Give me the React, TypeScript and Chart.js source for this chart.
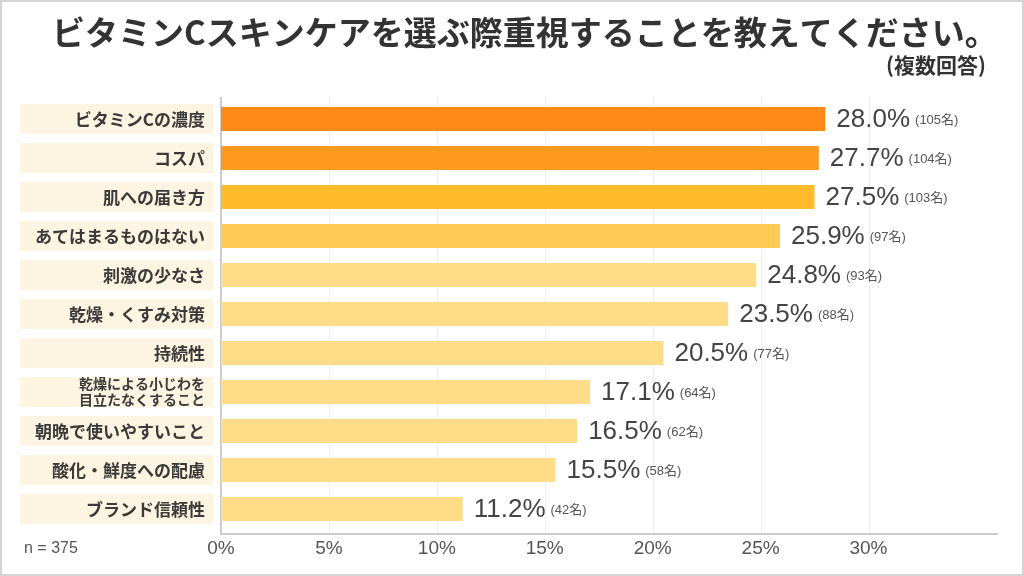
import { useEffect, useRef } from "react";
import { Chart, registerables } from "chart.js";

Chart.register(...registerables);

const titleText = "ビタミンCスキンケアを選ぶ際重視することを教えてください。";
const subtitleText = "(複数回答)";
const sampleText = "n = 375";

const categories = [
  "ビタミンCの濃度",
  "コスパ",
  "肌への届き方",
  "あてはまるものはない",
  "刺激の少なさ",
  "乾燥・くすみ対策",
  "持続性",
  "乾燥による小じわを\n目立たなくすること",
  "朝晩で使いやすいこと",
  "酸化・鮮度への配慮",
  "ブランド信頼性",
];
const percentages = [28.0, 27.7, 27.5, 25.9, 24.8, 23.5, 20.5, 17.1, 16.5, 15.5, 11.2];
const counts = [105, 104, 103, 97, 93, 88, 77, 64, 62, 58, 42];
const barColors = [
  "#FF8A17",
  "#FF9A1E",
  "#FFBB2A",
  "#FFCB55",
  "#FFDD88",
  "#FFDD88",
  "#FFDD88",
  "#FFDD88",
  "#FFDD88",
  "#FFDD88",
  "#FFDD88",
];
const tickValues = [0, 5, 10, 15, 20, 25, 30];

const JP = '"Noto Sans CJK JP", "Noto Sans", sans-serif';
const LAT = '"Liberation Sans", "Noto Sans CJK JP", sans-serif';

const decorPlugin = {
  id: "decor",
  beforeDraw(chart: any) {
    const { ctx, width, height } = chart;
    ctx.save();
    ctx.fillStyle = "#ffffff";
    ctx.fillRect(0, 0, width, height);
    ctx.restore();
  },
  beforeDatasetsDraw(chart: any) {
    const { ctx, chartArea } = chart;
    const xs = chart.scales.x;
    const ys = chart.scales.y;
    const top = 97;
    const axisY = 533;
    ctx.save();
    ctx.strokeStyle = "#ececec";
    ctx.lineWidth = 1;
    tickValues.forEach((v) => {
      if (v === 0) return;
      const x = Math.round(xs.getPixelForValue(v)) + 0.5;
      ctx.beginPath();
      ctx.moveTo(x, top);
      ctx.lineTo(x, axisY);
      ctx.stroke();
    });
    categories.forEach((c, i) => {
      const cy = ys.getPixelForValue(i);
      ctx.fillStyle = "#FEF4E2";
      ctx.fillRect(20, cy - 15, 193, 30);
      ctx.fillStyle = "#3a3a3a";
      ctx.textAlign = "right";
      ctx.textBaseline = "middle";
      const lines = c.split("\n");
      if (lines.length > 1) {
        ctx.font = `bold 14px ${JP}`;
        ctx.fillText(lines[0], 205, cy - 8);
        ctx.fillText(lines[1], 205, cy + 8);
      } else {
        ctx.font = `bold 17px ${JP}`;
        ctx.fillText(c, 205, cy + 1);
      }
    });
    ctx.strokeStyle = "#cccccc";
    ctx.lineWidth = 2;
    ctx.beginPath();
    ctx.moveTo(chartArea.left, top);
    ctx.lineTo(chartArea.left, axisY + 1);
    ctx.lineTo(chartArea.right, axisY + 1);
    ctx.stroke();
    ctx.restore();
  },
  afterDatasetsDraw(chart: any) {
    const { ctx } = chart;
    const meta = chart.getDatasetMeta(0);
    ctx.save();
    meta.data.forEach((bar: any, i: number) => {
      const pct = percentages[i].toFixed(1) + "%";
      ctx.textBaseline = "middle";
      ctx.textAlign = "left";
      ctx.fillStyle = "#444444";
      ctx.font = `26px ${LAT}`;
      const x0 = bar.x + 11;
      ctx.fillText(pct, x0, bar.y + 1);
      const w = ctx.measureText(pct).width;
      ctx.font = `13px ${LAT}`;
      ctx.fillStyle = "#555555";
      ctx.fillText(`(${counts[i]}名)`, x0 + w + 5, bar.y + 1);
    });
    ctx.restore();
  },
  afterDraw(chart: any) {
    const { ctx, width, height } = chart;
    ctx.save();
    ctx.fillStyle = "#333333";
    ctx.textBaseline = "middle";
    ctx.textAlign = "left";
    ctx.font = `bold 33px ${JP}`;
    ctx.fillText(titleText, 52, 32);
    ctx.textAlign = "right";
    ctx.font = `bold 21px ${JP}`;
    ctx.fillText(subtitleText, 986, 65);
    ctx.textAlign = "left";
    ctx.fillStyle = "#555555";
    ctx.font = `16px ${LAT}`;
    ctx.fillText(sampleText, 24, 549);
    ctx.strokeStyle = "#d4d4d4";
    ctx.lineWidth = 2;
    ctx.strokeRect(1, 1, width - 2, height - 2);
    ctx.restore();
  },
};

export default function App() {
  const ref = useRef<HTMLCanvasElement | null>(null);
  useEffect(() => {
    if (!ref.current) return;
    const chart = new Chart(ref.current, {
      type: "bar",
      data: {
        labels: categories.map((c) => c.split("\n")),
        datasets: [
          {
            data: percentages,
            backgroundColor: barColors,
            barPercentage: 0.62,
            categoryPercentage: 1,
            borderWidth: 0,
          },
        ],
      },
      options: {
        indexAxis: "y",
        responsive: false,
        animation: false,
        layout: { padding: { left: 221, right: 26, top: 99.5, bottom: 6.7 } },
        scales: {
          x: {
            min: 0,
            max: 36,
            afterBuildTicks: (s: any) => {
              s.ticks = tickValues.map((v) => ({ value: v }));
            },
            grid: { display: false, drawTicks: false },
            border: { display: false },
            ticks: {
              callback: (v: any) => `${v}%`,
              color: "#555555",
              font: { family: LAT, size: 19 },
              padding: 9,
              maxRotation: 0,
            },
          },
          y: { display: false },
        },
        plugins: {
          legend: { display: false },
          tooltip: { enabled: false },
        },
      },
      plugins: [decorPlugin],
    });
    return () => chart.destroy();
  }, []);
  return (
    <div style={{ position: "absolute", left: 0, top: 0, width: 1024, height: 576 }}>
      <canvas ref={ref} width={1024} height={576} style={{ display: "block" }} />
    </div>
  );
}
